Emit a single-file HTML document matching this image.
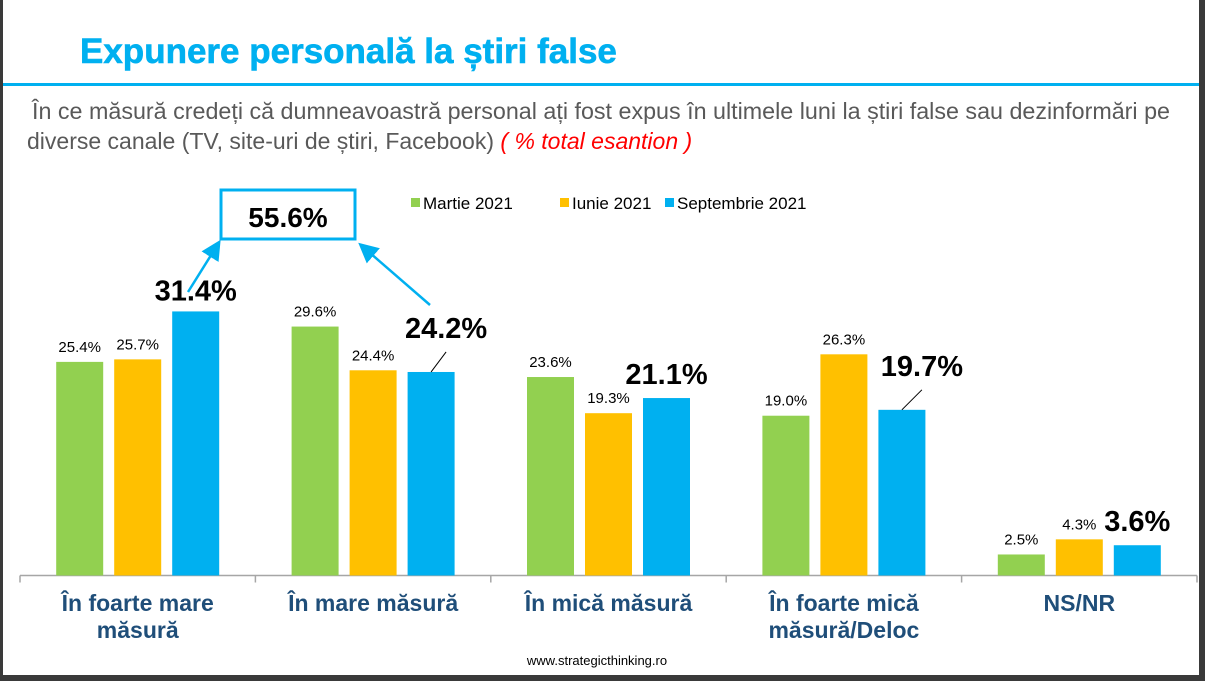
<!DOCTYPE html>
<html><head><meta charset="utf-8"><style>
body{margin:0;background:#3a3a3a;}
#page{position:relative;width:1205px;height:681px;overflow:hidden;background:#3a3a3a;font-family:"Liberation Sans",sans-serif;}
#slide{position:absolute;left:3px;top:0;width:1196px;height:675px;background:#fff;}
</style></head><body>
<div id="page">
<div id="slide"></div>
<svg id="chart" width="1205" height="681" style="position:absolute;left:0;top:0"></svg>
</div>
<script>
const categories=[["În foarte mare","măsură"],["În mare măsură"],["În mică măsură"],["În foarte mică","măsură/Deloc"],["NS/NR"]];
const seriesNames=["Martie 2021","Iunie 2021","Septembrie 2021"];
const martie=[25.4,29.6,23.6,19.0,2.5];
const iunie=[25.7,24.4,19.3,26.3,4.3];
const septembrie=[31.4,24.2,21.1,19.7,3.6];
const colors=["#92d050","#ffc000","#00b0f0"];
const NS="http://www.w3.org/2000/svg";
const svg=document.getElementById('chart');
const x0=20,x1=1197,base=575.5,pxPer=8.41;
const gw=(x1-x0)/categories.length;
const y=v=>base-v*pxPer;
const bigOffset=[0,15,0,20,0];
function el(t,a,txt){const e=document.createElementNS(NS,t);for(const k in a)e.setAttribute(k,a[k]);if(txt!==undefined)e.textContent=txt;svg.appendChild(e);return e;}
let e=el('text',{x:80,y:63,'font-size':35,'font-weight':'700',fill:'#00b0f0',stroke:'#00b0f0','stroke-width':0.6},'Expunere personală la știri false');

e=el('rect',{x:3,y:83,width:1196,height:3,fill:'#00b0f0'});

e=el('text',{x:32,y:119,'font-size':23,fill:'#595959',textLength:1138,lengthAdjust:'spacingAndGlyphs'},'În ce măsură credeți că dumneavoastră personal ați fost expus în ultimele luni la știri false sau dezinformări pe');

e=el('text',{x:27,y:149,'font-size':23,fill:'#595959'},'');
e.innerHTML='diverse canale (TV, site-uri de știri, Facebook) <tspan fill="#ff0000" font-style="italic">( % total esantion )</tspan>';

const lx=[411,560,665];
seriesNames.forEach((n,i)=>{
 let r=el('rect',{x:lx[i],y:198,width:9,height:9,fill:colors[i]});
 
 let t=el('text',{x:lx[i]+12,y:209,'font-size':17,fill:'#000'},n);
 
});
e=el('line',{x1:x0,y1:base,x2:x1,y2:base,stroke:'#a6a6a6','stroke-width':1.5});

for(let i=0;i<=categories.length;i++){let t=el('line',{x1:x0+i*gw,y1:base,x2:x0+i*gw,y2:base+7,stroke:'#a6a6a6','stroke-width':1.5});
 }
const all=[martie,iunie,septembrie];
const bw=47,pitch=58;
categories.forEach((c,g)=>{
 const cx=x0+gw*(g+0.5);
 all.forEach((s,i)=>{
  const bx=cx+(i-1)*pitch-bw/2;
  let r=el('rect',{x:bx,y:y(s[g]),width:bw,height:s[g]*pxPer,fill:colors[i]});
  
  const big=i===2;
  let lxp=bx+bw/2, lyp=y(s[g])-(big?14:10);
  if(big){lxp+=bigOffset[g];
   if(bigOffset[g]>0){lyp=y(s[g])-34;
    let l=el('line',{x1:bx+bw/2,y1:y(s[g]),x2:lxp,y2:y(s[g])-20,stroke:'#000','stroke-width':1});
    }
   if(g===0) lyp=y(s[g])-11;}
  let t=el('text',{x:lxp,y:lyp,'text-anchor':'middle','font-size':big?29:15,'font-weight':big?'bold':'normal',fill:'#000'},s[g].toFixed(1)+'%');
  
 });
 c.forEach((ln,k)=>{let t=el('text',{x:cx,y:611+k*27,'text-anchor':'middle','font-size':23,'font-weight':'bold',fill:'#1f4e79'},ln);
  });
});
e=el('rect',{x:221,y:190,width:134,height:49,fill:'#fff',stroke:'#00b0f0','stroke-width':3});

e=el('text',{x:288,y:227,'text-anchor':'middle','font-size':28,'font-weight':'bold',fill:'#000'},(septembrie[0]+septembrie[1]).toFixed(1)+'%');

e=el('defs',{});e.innerHTML='<marker id="ah" markerWidth="8" markerHeight="8" refX="6" refY="4" orient="auto"><path d="M0,0 L8,4 L0,8 z" fill="#00b0f0"/></marker>';
e=el('line',{x1:188,y1:292,x2:218,y2:244,stroke:'#00b0f0','stroke-width':2.5,'marker-end':'url(#ah)'});

e=el('line',{x1:430,y1:305,x2:362,y2:246,stroke:'#00b0f0','stroke-width':2.5,'marker-end':'url(#ah)'});

e=el('text',{x:597,y:665,'text-anchor':'middle','font-size':13,fill:'#000'},'www.strategicthinking.ro');

</script>
</body></html>
